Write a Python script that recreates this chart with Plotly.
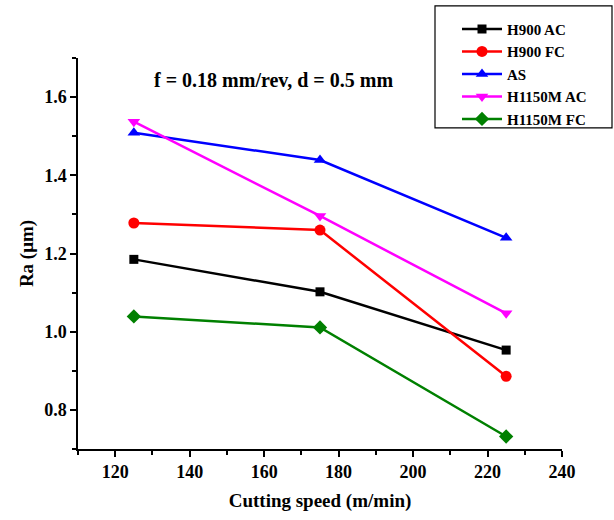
import plotly.graph_objects as go

speed = [125, 175, 225]
h900_ac = [1.185, 1.102, 0.953]
h900_fc = [1.278, 1.260, 0.886]
as_rcv = [1.509, 1.439, 1.240]
h1150m_ac = [1.537, 1.296, 1.047]
h1150m_fc = [1.039, 1.011, 0.732]

series = [
    ("H900 AC", h900_ac, "black", "square"),
    ("H900 FC", h900_fc, "red", "circle"),
    ("AS", as_rcv, "blue", "triangle-up"),
    ("H1150M AC", h1150m_ac, "magenta", "triangle-down"),
    ("H1150M FC", h1150m_fc, "green", "diamond"),
]

FONT = "Liberation Serif"
fig = go.Figure()
for name, ys, col, sym in series:
    fig.add_trace(go.Scatter(
        x=speed, y=ys, name=name, mode="lines+markers",
        line=dict(color=col, width=2.5),
        marker=dict(symbol=sym, size=11 if sym != "square" else 9, color=col),
    ))

fig.add_annotation(
    x=162.5, y=1.645, xref="x", yref="y", showarrow=False,
    text="<b>f = 0.18 mm/rev, d = 0.5 mm</b>",
    font=dict(family=FONT, size=20, color="black"),
)

# legend frame
fig.add_shape(type="rect", xref="paper", yref="paper",
              x0=(435 - 78) / 484, x1=(612 - 78) / 484,
              y0=(455 - 129) / 397, y1=(455 - 5) / 397,
              line=dict(color="black", width=1.2), fillcolor="white", layer="below")

axis_common = dict(
    showline=True, linecolor="black", linewidth=1.5, mirror=False,
    showgrid=False, zeroline=False, ticks="outside", ticklen=6,
    tickwidth=1.5, tickcolor="black",
    tickfont=dict(family=FONT, size=18, color="black", weight="bold"),
)

fig.update_layout(
    width=614, height=520,
    margin=dict(l=78, r=52, t=58, b=65),
    paper_bgcolor="white", plot_bgcolor="rgba(0,0,0,0)",
    showlegend=True,
    legend=dict(
        x=(457 - 78) / 484, y=(455 - 12) / 397, xref="paper", yref="paper",
        xanchor="left", yanchor="top",
        borderwidth=0, bgcolor="rgba(0,0,0,0)",
        font=dict(family=FONT, size=15, color="black", weight="bold"),
        tracegroupgap=0, itemwidth=40,
    ),
    xaxis=dict(
        range=[110, 240], dtick=20, tick0=0,
        minor=dict(ticks="outside", ticklen=4, dtick=10, tick0=0, tickcolor="black", tickwidth=1.5),
        title=dict(text="<b>Cutting speed (m/min)</b>", font=dict(family=FONT, size=19, color="black"), standoff=12),
        **axis_common,
    ),
    yaxis=dict(
        range=[0.7, 1.7], dtick=0.2, tick0=0, tickformat=".1f",
        minor=dict(ticks="outside", ticklen=4, dtick=0.1, tick0=0, tickcolor="black", tickwidth=1.5),
        title=dict(text="<b>Ra (μm)</b>", font=dict(family=FONT, size=19, color="black"), standoff=6),
        **axis_common,
    ),
)

fig.write_html("out.html")
